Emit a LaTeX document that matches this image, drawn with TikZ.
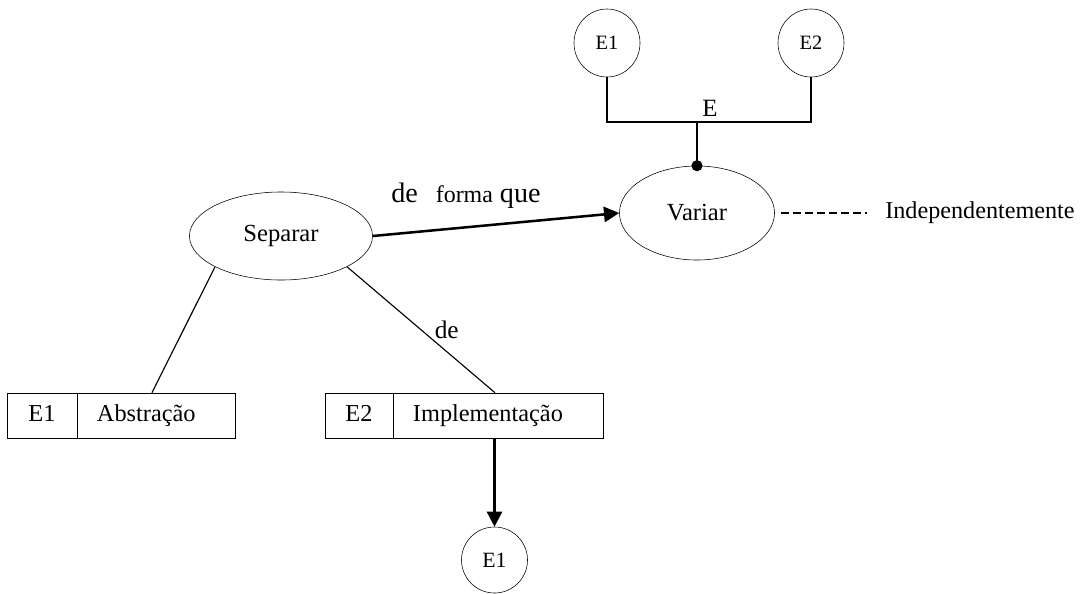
\documentclass[tikz,border=0pt]{standalone}
\usepackage{fontspec}
\setmainfont{Liberation Serif}
\usetikzlibrary{arrows.meta,shapes.geometric}

\begin{document}
\begin{tikzpicture}[x=0.025cm,y=-0.025cm,
  ent/.style={draw,ellipse,inner sep=0pt,minimum width=1.65cm,minimum height=1.7cm,font=\fontsize{14.5}{17}\selectfont},
  concept/.style={draw,ellipse,inner sep=0pt,font=\fontsize{17.5}{21}\selectfont},
  cell/.style={draw,rectangle,inner ysep=0pt,minimum height=1.125cm,text height=12pt,text depth=4pt,font=\fontsize{17.3}{21}\selectfont},
  boldlink/.style={line width=1.8pt,-{Triangle[length=0.38cm,width=0.38cm]}},
  thin/.style={line width=0.8pt}]
  \useasboundingbox (0,0) rectangle (1084,593);
  % concepts
  \node[concept,minimum width=4.575cm,minimum height=2.2cm] (sep) at (281,236){Separar};
  \node[concept,minimum width=3.875cm,minimum height=2.35cm] (var) at (697,213){Variar};
  \node[anchor=west,font=\fontsize{17.2}{21}\selectfont,inner sep=0pt] (ind) at (885,213){Independentemente};
  % entities
  \node[ent] (e1t) at (607,43){E1};
  \node[ent] (e2t) at (811,43){E2};
  \node[ent,minimum width=1.65cm,minimum height=1.65cm,font=\fontsize{15.5}{18}\selectfont] (e1b) at (494.5,560){E1};
  % boxes
  \node[cell,minimum width=1.75cm,inner xsep=0pt] (bx1) at (42,415.5){E1};
  \node[cell,text width=2.95cm,inner xsep=0.5cm,align=left] (abs) at (156,415.5){Abstração};
  \node[cell,minimum width=1.7cm,inner xsep=0pt] (bx2) at (359,415.5){E2};
  \node[cell,text width=4.25cm,inner xsep=0.5cm,align=left] (impl) at (498,415.5){Implementação};
  % links
  \coordinate (join) at (697,122);
  \draw[thin] (e1t.south) |- (join) node[above right,font=\fontsize{17.7}{21}\selectfont]{E} -| (e2t.south);
  \draw[line width=1.8pt] (join) -- (var.north);
  \node[circle,fill,inner sep=0pt,minimum size=0.28cm] (knot) at (var.north){};
  \draw[boldlink] (sep.east) -- (var.west)
    node[pos=0.07,anchor=base west,inner sep=0pt,yshift=0.8cm]{\fontsize{20}{24}\selectfont de\hspace{12.8pt}\fontsize{17}{20}\selectfont forma\hspace{5pt}\fontsize{20}{24}\selectfont que};
  \draw[line width=1pt,dash pattern=on 5.7pt off 2.9pt] ([xshift=0.15cm]var.east) -- ([xshift=-0.45cm]ind.west);
  \draw[thin] (sep.205) -- ([xshift=-0.1cm]abs.north);
  \draw[thin] (sep.335) -- ([xshift=-0.075cm]impl.north)
    node[midway,right=0.33cm,inner sep=0pt,font=\fontsize{18}{21}\selectfont]{de};
  \draw[boldlink] (impl.south -| e1b.north) -- (e1b.north);
\end{tikzpicture}
\end{document}
